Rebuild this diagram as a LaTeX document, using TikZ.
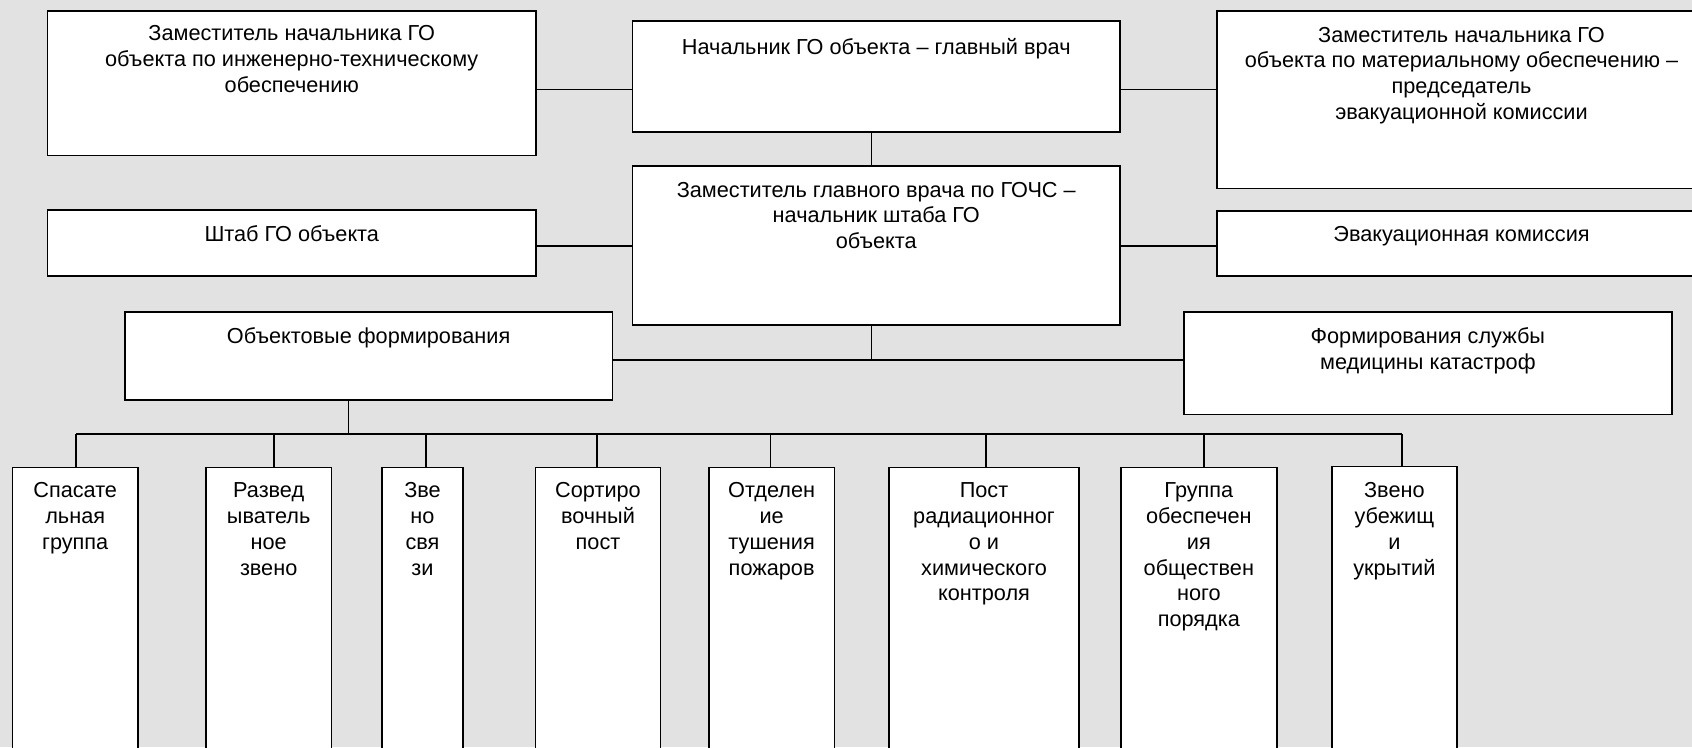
\documentclass[tikz,border=0pt]{standalone}
\usepackage{fontspec}
\setmainfont{Liberation Sans}
\definecolor{bg}{RGB}{226,226,226}
\newcommand\bxt[4]{\parbox[c][#2][t]{#1}{\centering\rule{0pt}{#3}#4\par}}
\tikzset{
  box/.style={draw=black, fill=white, line width=1.6pt, inner sep=0pt, outer sep=0pt, anchor=north west},
  conn/.style={draw=black, line width=1.4pt},
  every node/.style={font=\fontsize{21.7pt}{25.9pt}\selectfont}
}
\begin{document}
\begin{tikzpicture}[x=1pt,y=-1pt]
\fill[bg] (0,0) rectangle (1692,747);
\useasboundingbox (0,0) rectangle (1692,747);
% top level
\node[box] (A) at (47.5,10.7) {\bxt{488.5pt}{144.6pt}{29.5pt}{Заместитель начальника ГО\\ объекта по инженерно-техническому\\ обеспечению}};
\node[box] (Chief) at (632.5,21) {\bxt{487.5pt}{111pt}{33pt}{Начальник ГО объекта – главный врач}};
\node[box] (ZamMat) at (1217,11) {\bxt{489pt}{177.3pt}{31pt}{Заместитель начальника ГО\\ объекта по материальному обеспечению –\\ председатель\\ эвакуационной комиссии}};
\node[box] (Shtab) at (47.5,210) {\bxt{488.5pt}{66pt}{31pt}{Штаб ГО объекта}};
\node[box] (Zam) at (632.5,166) {\bxt{487.5pt}{159pt}{31pt}{Заместитель главного врача по ГОЧС –\\ начальник штаба ГО\\ объекта}};
\node[box] (Evac) at (1217,210.7) {\bxt{489pt}{65.3pt}{31pt}{Эвакуационная комиссия}};
\node[box] (Obj) at (124.7,311.7) {\bxt{487.8pt}{88.3pt}{31.5pt}{Объектовые формирования}};
\node[box] (Med) at (1184,311.7) {\bxt{487.7pt}{102.6pt}{31.5pt}{Формирования службы\\ медицины катастроф}};
% bottom row
\node[box] (S1) at (12.4,467.3) {\bxt{125.6pt}{300pt}{30pt}{Спасате\\ льная\\ группа}};
\node[box] (S2) at (206,467.3) {\bxt{125.4pt}{300pt}{30pt}{Развед\\ ыватель\\ ное\\ звено}};
\node[box] (S3) at (382,467.3) {\bxt{81pt}{300pt}{30pt}{Зве\\ но\\ свя\\ зи}};
\node[box] (S4) at (535.4,467.3) {\bxt{125.2pt}{300pt}{30pt}{Сортиро\\ вочный\\ пост}};
\node[box] (S5) at (709,467.3) {\bxt{125.3pt}{300pt}{30pt}{Отделен\\ ие\\ тушения\\ пожаров}};
\node[box] (S6) at (889,467.3) {\bxt{190pt}{300pt}{30pt}{Пост\\ радиационног\\ о и\\ химического\\ контроля}};
\node[box] (S7) at (1121,467.3) {\bxt{155.7pt}{300pt}{30pt}{Группа\\ обеспечен\\ ия\\ обществен\\ ного\\ порядка}};
\node[box] (S8) at (1331.7,466.3) {\bxt{125.3pt}{300pt}{31pt}{Звено\\ убежищ\\ и\\ укрытий}};
% connectors
\coordinate (yA) at (0,89.3);
\coordinate (yB) at (0,246);
\coordinate (yM) at (0,360);
\coordinate (xC) at (871.4,0);
\draw[conn] (A.east |- yA) -- (Chief.west |- yA);
\draw[conn] (Chief.east |- yA) -- (ZamMat.west |- yA);
\draw[conn] (Chief.south -| xC) -- (Zam.north -| xC);
\draw[conn] (Shtab.east |- yB) -- (Zam.west |- yB);
\draw[conn] (Zam.east |- yB) -- (Evac.west |- yB);
\draw[conn] (Zam.south -| xC) -- (xC |- yM);
\draw[conn] (Obj.east |- yM) -- (Med.west |- yM);
\coordinate (bus) at (348.6,434);
\draw[conn] (Obj.south -| bus) -- (bus);
\coordinate (d1) at (76,434);
\coordinate (d2) at (274,434);
\coordinate (d3) at (425.8,434);
\coordinate (d4) at (597,434);
\coordinate (d5) at (770.6,434);
\coordinate (d6) at (986,434);
\coordinate (d7) at (1203.8,434);
\coordinate (d8) at (1402,434);
\draw[conn] (d1) -- (d8);
\foreach \i in {1,...,8} {\draw[conn] (d\i) -- (S\i.north -| d\i);}
\end{tikzpicture}
\end{document}
